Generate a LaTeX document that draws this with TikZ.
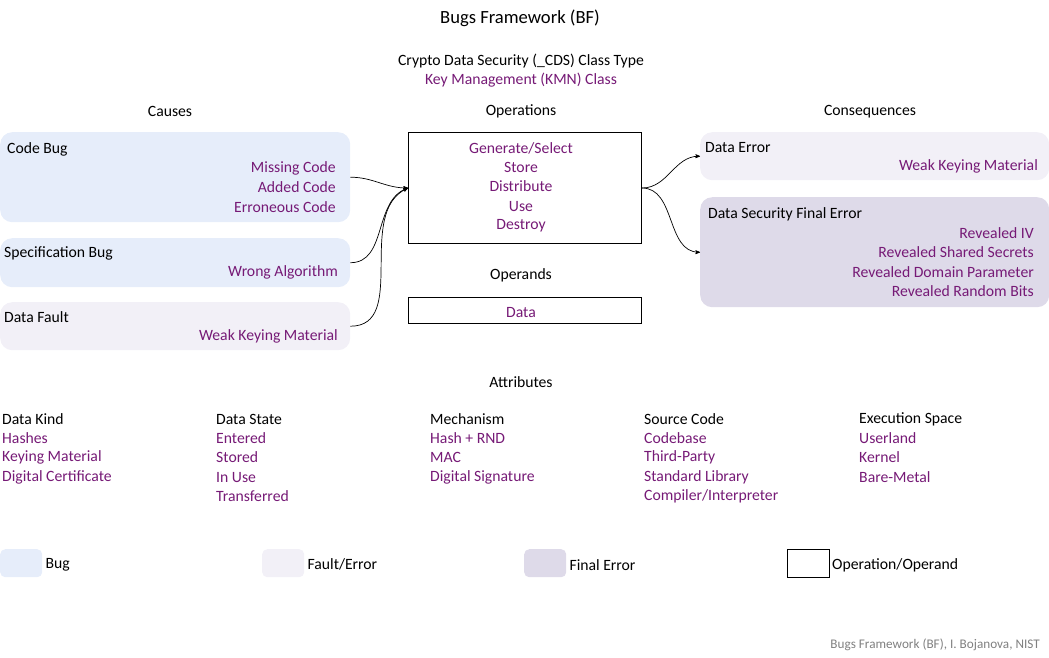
\documentclass[tikz,border=0pt]{standalone}
\usepackage{fontspec}
\setmainfont{Carlito}
\usetikzlibrary{positioning,arrows}

\definecolor{bfpurple}{RGB}{118,26,118}
\definecolor{bugfill}{RGB}{230,237,250}
\definecolor{faultfill}{RGB}{242,240,247}
\definecolor{finalfill}{RGB}{222,218,233}

\tikzset{
  txt/.style={inner sep=0pt,yshift=-1.5pt,font=\fontsize{15.7}{19}\selectfont},
  itm/.style={txt,text=bfpurple},
  panel/.style={rounded corners=12pt,anchor=north west,inner sep=0pt,minimum width=350pt},
  opbox/.style={draw,line width=1pt,anchor=north west,inner sep=0pt,minimum width=233pt},
  swatch/.style={rounded corners=5pt,anchor=north west,inner sep=0pt,minimum width=42pt,minimum height=28pt},
  link/.style={->,line width=0.7pt}
}

\begin{document}
\begin{tikzpicture}[x=1pt,y=-1pt,>=stealth']
      \useasboundingbox (0,0) rectangle (1049,657);

      % headings
      \node[txt,font=\fontsize{18.6}{22}\selectfont] (title) at (520,17) {Bugs Framework (BF)};
      \node[txt] (cds) at (521,60) {Crypto Data Security (\_CDS) Class Type};
      \node[itm] (kmn) at (521,79) {Key Management (KMN) Class};
      \node[txt] (causes) at (170,110) {Causes};
      \node[txt] (opers) at (521,110) {Operations};
      \node[txt] (conseq) at (870,110) {Consequences};

      % causes
      \node[panel,fill=bugfill,minimum height=90pt] (codebug) at (0,132) {};
      \node[txt,anchor=west] at (7,148) {Code Bug};
      \node[itm,anchor=east] at (336,167) {Missing Code};
      \node[itm,anchor=east] at (336,186) {Added Code};
      \node[itm,anchor=east] at (336,206) {Erroneous Code};

      \node[panel,fill=bugfill,minimum height=49pt] (specbug) at (0,238) {};
      \node[txt,anchor=west] at (4,252) {Specification Bug};
      \node[itm,anchor=east] at (338,271) {Wrong Algorithm};

      \node[panel,fill=faultfill,minimum height=48pt] (datafault) at (0,302) {};
      \node[txt,anchor=west] at (4,316) {Data Fault};
      \node[itm,anchor=east] at (338,335) {Weak Keying Material};

      % operations and operands
      \node[opbox,minimum height=111pt] (ops) at (408,132) {};
      \node[itm] at (521,147) {Generate/Select};
      \node[itm] at (521,166) {Store};
      \node[itm] at (521,185) {Distribute};
      \node[itm] at (521,205) {Use};
      \node[itm] at (521,224) {Destroy};
      \node[txt] (operands) at (521,274) {Operands};
      \node[opbox,minimum height=26pt] (data) at (408,297) {};
      \node[itm] at (521,311) {Data};

      % consequences
      \node[panel,fill=faultfill,minimum width=349pt,minimum height=48pt] (dataerr) at (700,132) {};
      \node[txt,anchor=west] at (705,146) {Data Error};
      \node[itm,anchor=east] at (1038,165) {Weak Keying Material};

      \node[panel,fill=finalfill,minimum width=349pt,minimum height=110pt] (finalerr) at (700,197) {};
      \node[txt,anchor=west] at (708,213) {Data Security Final Error};
      \node[itm,anchor=east] at (1034,232) {Revealed IV};
      \node[itm,anchor=east] at (1034,251) {Revealed Shared Secrets};
      \node[itm,anchor=east] at (1034,271) {Revealed Domain Parameter};
      \node[itm,anchor=east] at (1034,290) {Revealed Random Bits};

      \draw[link] (codebug.east) to[out=0,in=180] (ops.west);
      \draw[link] (specbug.east) to[out=0,in=200] (ops.west);
      \draw[link] (datafault.east) to[out=0,in=205] (ops.west);
      \draw[link] (ops.east) to[out=0,in=180] (dataerr.west);
      \draw[link] (ops.east) to[out=0,in=180] (finalerr.west);

      % attributes
      \node[txt] (attrs) at (521,381) {Attributes};
      \foreach \x/\head/\a/\b/\c/\d in {
          2/Data Kind/Hashes/Keying Material/Digital Certificate/,
          216/Data State/Entered/Stored/In Use/Transferred,
          430/Mechanism/Hash + RND/MAC/Digital Signature/,
          644/Source Code/Codebase/Third-Party/Standard Library/Compiler\slash Interpreter,
          859/Execution Space/Userland/Kernel/Bare-Metal/}{
        \node[txt,anchor=west] at (\x,418) {\head};
        \node[itm,anchor=west] at (\x,437) {\a};
        \node[itm,anchor=west] at (\x,456) {\b};
        \node[itm,anchor=west] at (\x,476) {\c};
        \node[itm,anchor=west] at (\x,495) {\d};
      }

      % legend
      \node[swatch,fill=bugfill] (lgbug) at (0,549) {};
      \node[txt,right=3pt of lgbug] {Bug};
      \node[swatch,fill=faultfill] (lgfault) at (262,549) {};
      \node[txt,right=3pt of lgfault] {Fault/Error};
      \node[swatch,fill=finalfill] (lgfinal) at (524,549) {};
      \node[txt,right=3pt of lgfinal] {Final Error};
      \node[swatch,draw,rounded corners=0pt,line width=1pt] (lgop) at (787,549) {};
      \node[txt,right=2pt of lgop] {Operation/Operand};

      \node[txt,anchor=east,text=gray,font=\fontsize{13.2}{15}\selectfont] (credit) at (1040,643)
        {Bugs Framework (BF), I. Bojanova, NIST};
    \end{tikzpicture}
\end{document}
